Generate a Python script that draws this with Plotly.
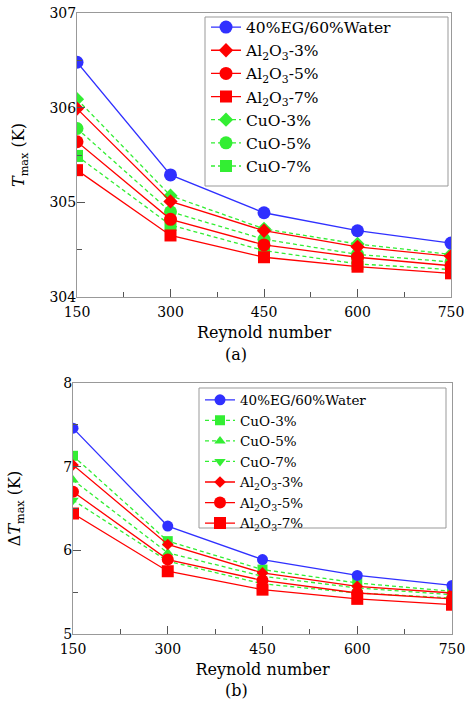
import plotly.graph_objects as go

re = [150, 300, 450, 600, 750]

# (a) Tmax (K)
a_water = [306.48, 305.29, 304.89, 304.70, 304.57]
a_al3 = [305.99, 305.01, 304.70, 304.53, 304.43]
a_al5 = [305.64, 304.82, 304.55, 304.42, 304.33]
a_al7 = [305.34, 304.65, 304.42, 304.32, 304.25]
a_cu3 = [306.09, 305.07, 304.72, 304.56, 304.45]
a_cu5 = [305.78, 304.90, 304.61, 304.45, 304.37]
a_cu7 = [305.49, 304.76, 304.49, 304.35, 304.29]

# (b) Delta Tmax (K)
b_water = [7.46, 6.29, 5.89, 5.70, 5.58]
b_cu3 = [7.13, 6.11, 5.77, 5.61, 5.51]
b_cu5 = [6.84, 5.97, 5.69, 5.55, 5.47]
b_cu7 = [6.60, 5.87, 5.60, 5.49, 5.43]
b_al3 = [7.02, 6.07, 5.73, 5.57, 5.49]
b_al5 = [6.70, 5.89, 5.64, 5.49, 5.42]
b_al7 = [6.44, 5.75, 5.53, 5.42, 5.35]

BLUE = "#3030ff"
RED = "#ff0000"
GREEN = "#33ee33"
FONT = "DejaVu Serif"

fig = go.Figure()

def add(x, y, name, color, symbol, size, dashed, rank, xa, ya, legend):
    fig.add_trace(go.Scatter(
        x=x, y=y, name=name, mode="lines+markers",
        line=dict(color=color, width=1.3, dash="4px,3px" if dashed else "solid"),
        marker=dict(color=color, symbol=symbol, size=size, line=dict(width=0)),
        legendrank=rank, xaxis=xa, yaxis=ya, legend=legend,
    ))

add(re, a_cu3, "CuO-3%", GREEN, "diamond", 11, True, 5, "x", "y", "legend")
add(re, a_cu5, "CuO-5%", GREEN, "circle", 13, True, 6, "x", "y", "legend")
add(re, a_cu7, "CuO-7%", GREEN, "square", 12, True, 7, "x", "y", "legend")
add(re, a_al3, "Al<sub>2</sub>O<sub>3</sub>-3%", RED, "diamond", 11, False, 2, "x", "y", "legend")
add(re, a_al5, "Al<sub>2</sub>O<sub>3</sub>-5%", RED, "circle", 13, False, 3, "x", "y", "legend")
add(re, a_al7, "Al<sub>2</sub>O<sub>3</sub>-7%", RED, "square", 12, False, 4, "x", "y", "legend")
add(re, a_water, "40%EG/60%Water", BLUE, "circle", 13, False, 1, "x", "y", "legend")

add(re, b_cu3, "CuO-3%", GREEN, "square", 10, True, 2, "x2", "y2", "legend2")
add(re, b_cu5, "CuO-5%", GREEN, "triangle-up", 10, True, 3, "x2", "y2", "legend2")
add(re, b_cu7, "CuO-7%", GREEN, "triangle-down", 10, True, 4, "x2", "y2", "legend2")
add(re, b_al3, "Al<sub>2</sub>O<sub>3</sub>-3%", RED, "diamond", 9, False, 5, "x2", "y2", "legend2")
add(re, b_al5, "Al<sub>2</sub>O<sub>3</sub>-5%", RED, "circle", 12, False, 6, "x2", "y2", "legend2")
add(re, b_al7, "Al<sub>2</sub>O<sub>3</sub>-7%", RED, "square", 12, False, 7, "x2", "y2", "legend2")
add(re, b_water, "40%EG/60%Water", BLUE, "circle", 11, False, 1, "x2", "y2", "legend2")

W, H = 474, 720
def px_x(p):
    return p / W
def px_y(p):
    return 1 - p / H

axis_common = dict(
    showgrid=False, zeroline=False, showline=True, linecolor="#999999", linewidth=1,
    mirror=True, ticks="inside", ticklen=8, tickcolor="#555555", tickwidth=1,
    tickfont=dict(family=FONT, size=14, color="black"), automargin=False,
)
minor_x = dict(ticks="inside", ticklen=5, tickcolor="#555555", tickvals=[225, 375, 525, 675])
title_font = dict(family=FONT, size=16, color="black")

fig.update_layout(
    width=W, height=H, margin=dict(l=0, r=0, t=0, b=0),
    paper_bgcolor="white", plot_bgcolor="white",
    font=dict(family=FONT, color="black"),
    xaxis=dict(axis_common, domain=[px_x(77), px_x(451)], range=[150, 750],
               tickvals=re, anchor="y", minor=minor_x, ticklabelstandoff=2,
               title=dict(text="Reynold number", font=title_font, standoff=8)),
    yaxis=dict(axis_common, domain=[px_y(297), px_y(13)], range=[304, 307],
               tickvals=[304, 305, 306, 307], anchor="x", ticklabelstandoff=-3,
               minor=dict(ticks="inside", ticklen=5, tickcolor="#555555", tickvals=[304.5, 305.5, 306.5]),
               title=dict(text="<i>T</i><sub>max</sub> (K)", font=title_font, standoff=20)),
    xaxis2=dict(axis_common, domain=[px_x(73), px_x(452)], range=[150, 750],
                tickvals=re, anchor="y2", minor=minor_x, ticklabelstandoff=2,
                title=dict(text="Reynold number", font=title_font, standoff=8)),
    yaxis2=dict(axis_common, domain=[px_y(634), px_y(383)], range=[5, 8],
                tickvals=[5, 6, 7, 8], anchor="x2", ticklabelstandoff=-3,
                minor=dict(ticks="inside", ticklen=5, tickcolor="#555555", tickvals=[5.5, 6.5, 7.5]),
                title=dict(text="Δ<i>T</i><sub>max</sub> (K)", font=title_font, standoff=38)),
    legend=dict(x=px_x(206), y=px_y(10.5), xanchor="left", yanchor="top",
                borderwidth=0, bgcolor="rgba(0,0,0,0)",
                font=dict(family=FONT, size=15.5, color="black"), tracegroupgap=0),
    legend2=dict(x=px_x(200), y=px_y(384.5), xanchor="left", yanchor="top",
                 borderwidth=0, bgcolor="rgba(0,0,0,0)",
                 font=dict(family=FONT, size=13.5, color="black"), tracegroupgap=0),
    shapes=[
        dict(type="rect", xref="paper", yref="paper", layer="below",
             x0=px_x(205), x1=px_x(448), y0=px_y(186), y1=px_y(17),
             line=dict(color="#999999", width=1), fillcolor="white"),
        dict(type="rect", xref="paper", yref="paper", layer="below",
             x0=px_x(199), x1=px_x(446), y0=px_y(528), y1=px_y(388),
             line=dict(color="#999999", width=1), fillcolor="white"),
    ],
    annotations=[
        dict(text="(a)", x=px_x(236), y=px_y(354), xref="paper", yref="paper",
             showarrow=False, font=dict(family=FONT, size=16)),
        dict(text="(b)", x=px_x(236), y=px_y(702), xref="paper", yref="paper",
             showarrow=False, font=dict(family=FONT, size=16)),
    ],
    showlegend=True,
)

fig.write_html("out.html", config={"displayModeBar": False},
               post_script="document.body.style.margin='0px';")
